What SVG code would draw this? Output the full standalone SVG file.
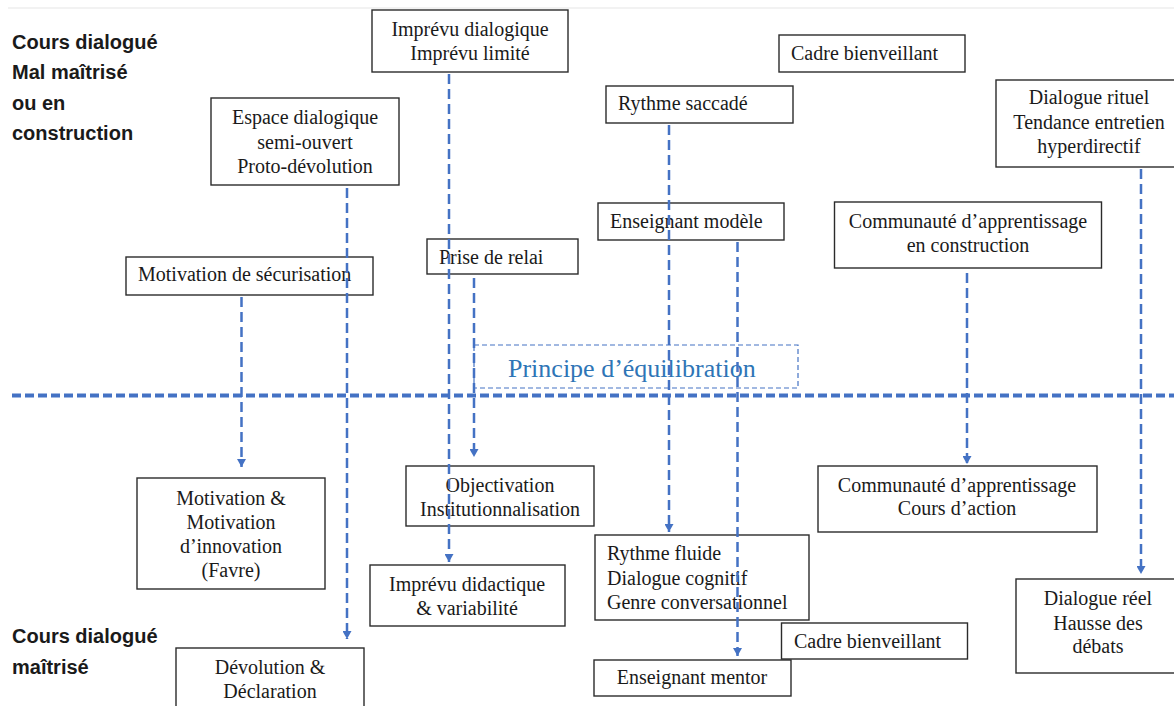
<svg xmlns="http://www.w3.org/2000/svg" width="1174" height="706" viewBox="0 0 1174 706">
<style>
  .box { fill: none; stroke: #2b2b2b; stroke-width: 1.4; }
  .t { font-family: "Liberation Serif", "Times New Roman", serif; font-size: 20px; fill: #1a1a1a; }
  .c { text-anchor: middle; }
  .lab { font-family: "Liberation Sans", Arial, sans-serif; font-size: 20px; font-weight: bold; fill: #1a1a1a; }
  .conn { stroke: #4472C4; stroke-width: 2.5; stroke-dasharray: 10 5; fill: none; }
  .axis { stroke: #4472C4; stroke-width: 4; stroke-dasharray: 9 4; fill: none; }
  .pbox { fill: none; stroke: #4472C4; stroke-width: 1.2; stroke-dasharray: 5 3; }
  .ptxt { font-family: "Liberation Serif", "Times New Roman", serif; font-size: 26px; fill: #2E75B6; }
</style>
<defs>
  <marker id="arr" markerUnits="userSpaceOnUse" markerWidth="9" markerHeight="9" refX="8" refY="4.5" orient="auto">
    <path d="M0,0 L8,4.5 L0,9 z" fill="#4472C4"/>
  </marker>
</defs>
<rect x="0" y="0" width="1174" height="706" fill="#ffffff"/>
<line x1="8" y1="8" x2="1174" y2="8" stroke="#eeeeee" stroke-width="1.5"/>

<g id="label-top">
  <text class="lab" x="12" y="49">Cours dialogué</text>
  <text class="lab" x="12" y="79">Mal maîtrisé</text>
  <text class="lab" x="12" y="110">ou en</text>
  <text class="lab" x="12" y="140">construction</text>
</g>
<g id="label-bottom">
  <text class="lab" x="12" y="643">Cours dialogué</text>
  <text class="lab" x="12" y="674">maîtrisé</text>
</g>

<g id="imprevu-dialogique">
  <rect class="box" x="372" y="10" width="196" height="62"/>
  <text class="t c" x="470" y="36">Imprévu dialogique</text>
  <text class="t c" x="470" y="60">Imprévu limité</text>
</g>
<g id="espace-dialogique">
  <rect class="box" x="211" y="98" width="188" height="87"/>
  <text class="t c" x="305" y="124">Espace dialogique</text>
  <text class="t c" x="305" y="149">semi-ouvert</text>
  <text class="t c" x="305" y="173">Proto-dévolution</text>
</g>
<g id="motivation-securisation">
  <rect class="box" x="126" y="257" width="247" height="38"/>
  <text class="t" x="138" y="281">Motivation de sécurisation</text>
</g>
<g id="prise-relai">
  <rect class="box" x="427" y="239" width="151" height="35"/>
  <text class="t" x="439" y="264">Prise de relai</text>
</g>
<g id="cadre-top">
  <rect class="box" x="779" y="35" width="186" height="37"/>
  <text class="t" x="791" y="60">Cadre bienveillant</text>
</g>
<g id="rythme-saccade">
  <rect class="box" x="606" y="86" width="187" height="37"/>
  <text class="t" x="618" y="110">Rythme saccadé</text>
</g>
<g id="dialogue-rituel">
  <rect class="box" x="996" y="80" width="182" height="87"/>
  <text class="t c" x="1089" y="104">Dialogue rituel</text>
  <text class="t c" x="1089" y="129">Tendance entretien</text>
  <text class="t c" x="1089" y="153">hyperdirectif</text>
</g>
<g id="enseignant-modele">
  <rect class="box" x="598" y="203" width="186" height="37"/>
  <text class="t" x="610" y="228">Enseignant modèle</text>
</g>
<g id="communaute-construction">
  <rect class="box" x="834.5" y="202" width="267" height="66"/>
  <text class="t c" x="968" y="228">Communauté d’apprentissage</text>
  <text class="t c" x="968" y="252">en construction</text>
</g>

<g id="principe">
  <rect class="pbox" x="474" y="345" width="324" height="43"/>
  <text class="ptxt" x="508" y="377">Principe d’équilibration</text>
</g>

<g id="motivation-innovation">
  <rect class="box" x="137" y="478" width="188" height="111"/>
  <text class="t c" x="231" y="505">Motivation &amp;</text>
  <text class="t c" x="231" y="529">Motivation</text>
  <text class="t c" x="231" y="553">d’innovation</text>
  <text class="t c" x="231" y="577">(Favre)</text>
</g>
<g id="objectivation">
  <rect class="box" x="406" y="466" width="188" height="60"/>
  <text class="t c" x="500" y="492">Objectivation</text>
  <text class="t c" x="500" y="516">Institutionnalisation</text>
</g>
<g id="imprevu-didactique">
  <rect class="box" x="370" y="565" width="195" height="61"/>
  <text class="t c" x="467" y="591">Imprévu didactique</text>
  <text class="t c" x="467" y="615">&amp; variabilité</text>
</g>
<g id="devolution">
  <rect class="box" x="176" y="648" width="188" height="70"/>
  <text class="t c" x="270" y="674">Dévolution &amp;</text>
  <text class="t c" x="270" y="698">Déclaration</text>
</g>
<g id="rythme-fluide">
  <rect class="box" x="595" y="535" width="214" height="85"/>
  <text class="t" x="607" y="560">Rythme fluide</text>
  <text class="t" x="607" y="585">Dialogue cognitif</text>
  <text class="t" x="607" y="609">Genre conversationnel</text>
</g>
<g id="communaute-action">
  <rect class="box" x="818" y="466" width="279" height="66"/>
  <text class="t c" x="957" y="492">Communauté d’apprentissage</text>
  <text class="t c" x="957" y="515">Cours d’action</text>
</g>
<g id="cadre-bottom">
  <rect class="box" x="781.5" y="623" width="186" height="36"/>
  <text class="t" x="794" y="648">Cadre bienveillant</text>
</g>
<g id="enseignant-mentor">
  <rect class="box" x="594" y="660" width="197" height="36"/>
  <text class="t c" x="692" y="684">Enseignant mentor</text>
</g>
<g id="dialogue-reel">
  <rect class="box" x="1016" y="579" width="162" height="94"/>
  <text class="t c" x="1098" y="605">Dialogue réel</text>
  <text class="t c" x="1098" y="630">Hausse des</text>
  <text class="t c" x="1098" y="653">débats</text>
</g>

<g id="connectors">
  <line class="axis" x1="12" y1="395.5" x2="1174" y2="395.5"/>
  <line class="conn" x1="241.5" y1="297" x2="241.5" y2="467" marker-end="url(#arr)"/>
  <line class="conn" x1="347" y1="188" x2="347" y2="639" marker-end="url(#arr)"/>
  <line class="conn" x1="449" y1="74" x2="449" y2="562" marker-end="url(#arr)"/>
  <line class="conn" x1="474" y1="278" x2="474" y2="457" marker-end="url(#arr)"/>
  <line class="conn" x1="669" y1="125" x2="669" y2="532" marker-end="url(#arr)"/>
  <line class="conn" x1="737.5" y1="242" x2="737.5" y2="656" marker-end="url(#arr)"/>
  <line class="conn" x1="967" y1="273" x2="967" y2="464" marker-end="url(#arr)"/>
  <line class="conn" x1="1141" y1="169" x2="1141" y2="574" marker-end="url(#arr)"/>
</g>
</svg>
